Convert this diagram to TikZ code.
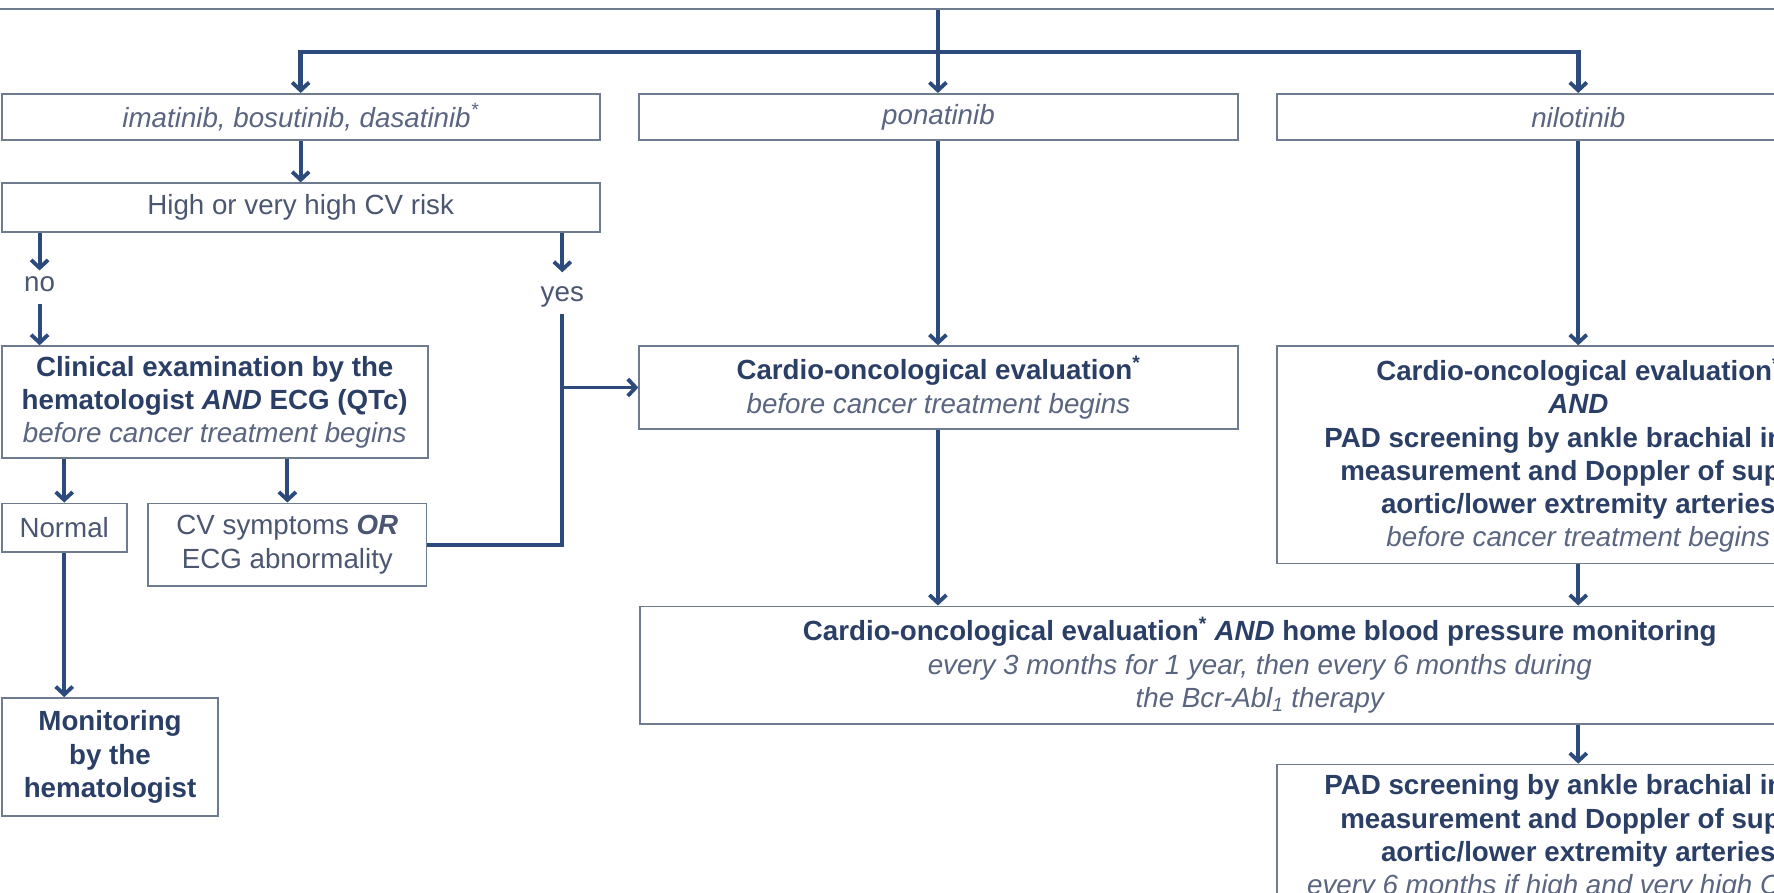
\documentclass[tikz,border=0pt]{standalone}
\usepackage{fontspec}
\setmainfont{Liberation Sans}
\usetikzlibrary{arrows.meta,calc}
\definecolor{linecol}{HTML}{2C4A7C}
\definecolor{boxcol}{HTML}{6F7B8F}
\definecolor{boldtxt}{HTML}{2B3F66}
\definecolor{regtxt}{HTML}{4B5670}
\definecolor{ittxt}{HTML}{5A6580}
\newcommand\myfs{\fontsize{24.5}{29.4}\selectfont}
\newcommand\Bt[1]{{\color{boldtxt}\bfseries #1}}
\newcommand\It[1]{{\color{ittxt}\itshape #1}}
\tikzset{
  box/.style={draw=boxcol, line width=1.6pt, align=center, inner xsep=4pt, inner ysep=6pt, font=\myfs, text=regtxt},
  lab/.style={font=\myfs, text=regtxt, inner sep=2pt},
  conn/.style={draw=linecol, line width=3.4pt},
  arr/.style={conn, -{Straight Barb[length=7pt,width=15pt,line width=3.4pt]}},
  darr/.style={conn, line join=miter, {Straight Barb[length=7pt,width=15pt,line width=3.4pt]}-{Straight Barb[length=7pt,width=15pt,line width=3.4pt]}}
}
\begin{document}
\begin{tikzpicture}[x=1pt,y=1pt]
\useasboundingbox (0,0) rectangle (1568,-789);
\fill[white] (0,0) rectangle (1568,-789);
\clip (0,0) rectangle (1568,-789);
% top box (its text lies outside the crop)
\node[box, minimum width=1700pt, minimum height=80pt, anchor=south] (top) at (829,-9) {};
% row 2
\node[box, minimum width=528.5pt, minimum height=41pt] (imat) at (265.75,-103.5) {\It{imatinib, bosutinib, dasatinib\textsuperscript{*}}};
\node[box, minimum width=529pt, minimum height=41pt] (pona) at (829.5,-103.5) {\It{ponatinib}};
\node[box, minimum width=532pt, minimum height=41pt] (nilo) at (1395,-103.5) {\It{nilotinib}};
% left column
\node[box, minimum width=528.5pt, minimum height=43pt] (high) at (265.75,-183.5) {High or very high CV risk};
\node[lab] (nolab) at (35,-251) {no};
\node[lab] (yeslab) at (497,-262) {yes};
\node[box, minimum width=376.5pt, minimum height=99pt] (clin) at (189.75,-355.5)
  {\Bt{Clinical examination by the}\\ \Bt{hematologist \textit{AND} ECG (QTc)}\\ \It{before cancer treatment begins}};
\node[box, minimum width=110.5pt, minimum height=43pt] (normal) at (56.75,-466.5) {Normal};
\node[box, minimum width=246pt, minimum height=73pt] (cvs) at (254,-481.5) {CV symptoms {\bfseries\itshape OR}\\ECG abnormality};
\node[box, minimum width=191.5pt, minimum height=104pt] (mon) at (97.25,-669) {\Bt{Monitoring}\\ \Bt{by the}\\ \Bt{hematologist}};
% middle column
\node[box, minimum width=529pt, minimum height=73pt] (card1) at (829.5,-342.5)
  {\Bt{Cardio-oncological evaluation\textsuperscript{*}}\\ \It{before cancer treatment begins}};
% right column
\node[box, minimum width=532pt, minimum height=192pt] (card2) at (1395,-402)
  {\Bt{Cardio-oncological evaluation\textsuperscript{*}}\\ \Bt{\textit{AND}}\\ \Bt{PAD screening by ankle brachial index}\\ \Bt{measurement and Doppler of supra-}\\ \Bt{aortic/lower extremity arteries}\\ \It{before cancer treatment begins}};
\node[box, minimum width=1095pt, minimum height=104pt] (big) at (1113.5,-588)
  {\Bt{Cardio-oncological evaluation\textsuperscript{*} \textit{AND} home blood pressure monitoring}\\ \It{every 3 months for 1 year, then every 6 months during}\\ \It{the Bcr-Abl\textsubscript{1} therapy}};
\node[box, minimum width=532pt, anchor=north, inner ysep=9pt] (pad) at (1395,-675)
  {\Bt{PAD screening by ankle brachial index}\\ \Bt{measurement and Doppler of supra-}\\ \Bt{aortic/lower extremity arteries}\\ \It{every 6 months if high and very high CV risk}};
% connectors
\coordinate (split) at (829,-46);
\draw[conn, line width=4pt] (top.south -| split) -- (split);
\draw[arr] (split) -- (pona.north -| split);
\draw[darr, line width=4pt] (imat.north) -- (imat.north |- split) -- (nilo.north |- split) -- (nilo.north);
\draw[arr] (imat.south) -- (high.north);
\draw[arr] (high.south -| nolab) -- ([yshift=3pt]nolab.north);
\draw[arr] ([yshift=-9pt]nolab.south) -- (clin.north -| nolab);
\draw[arr] (high.south -| yeslab) -- ([yshift=10pt]yeslab.north);
\draw[conn, line join=miter] ([yshift=-4pt]yeslab.south) -- (yeslab |- cvs.east) -- (cvs.east);
\draw[arr] (yeslab |- card1.west) -- (card1.west);
\draw[arr] (clin.south -| normal) -- (normal.north);
\draw[arr] (clin.south -| cvs) -- (cvs.north);
\draw[arr] (normal.south) -- (mon.north -| normal.south);
\draw[arr] (pona.south -| split) -- (card1.north -| split);
\draw[arr] (card1.south -| split) -- (big.north -| split);
\draw[arr] (nilo.south) -- (card2.north);
\draw[arr] (card2.south) -- (big.north -| card2.south);
\draw[arr] (big.south -| pad.north) -- (pad.north);
\end{tikzpicture}
\end{document}
